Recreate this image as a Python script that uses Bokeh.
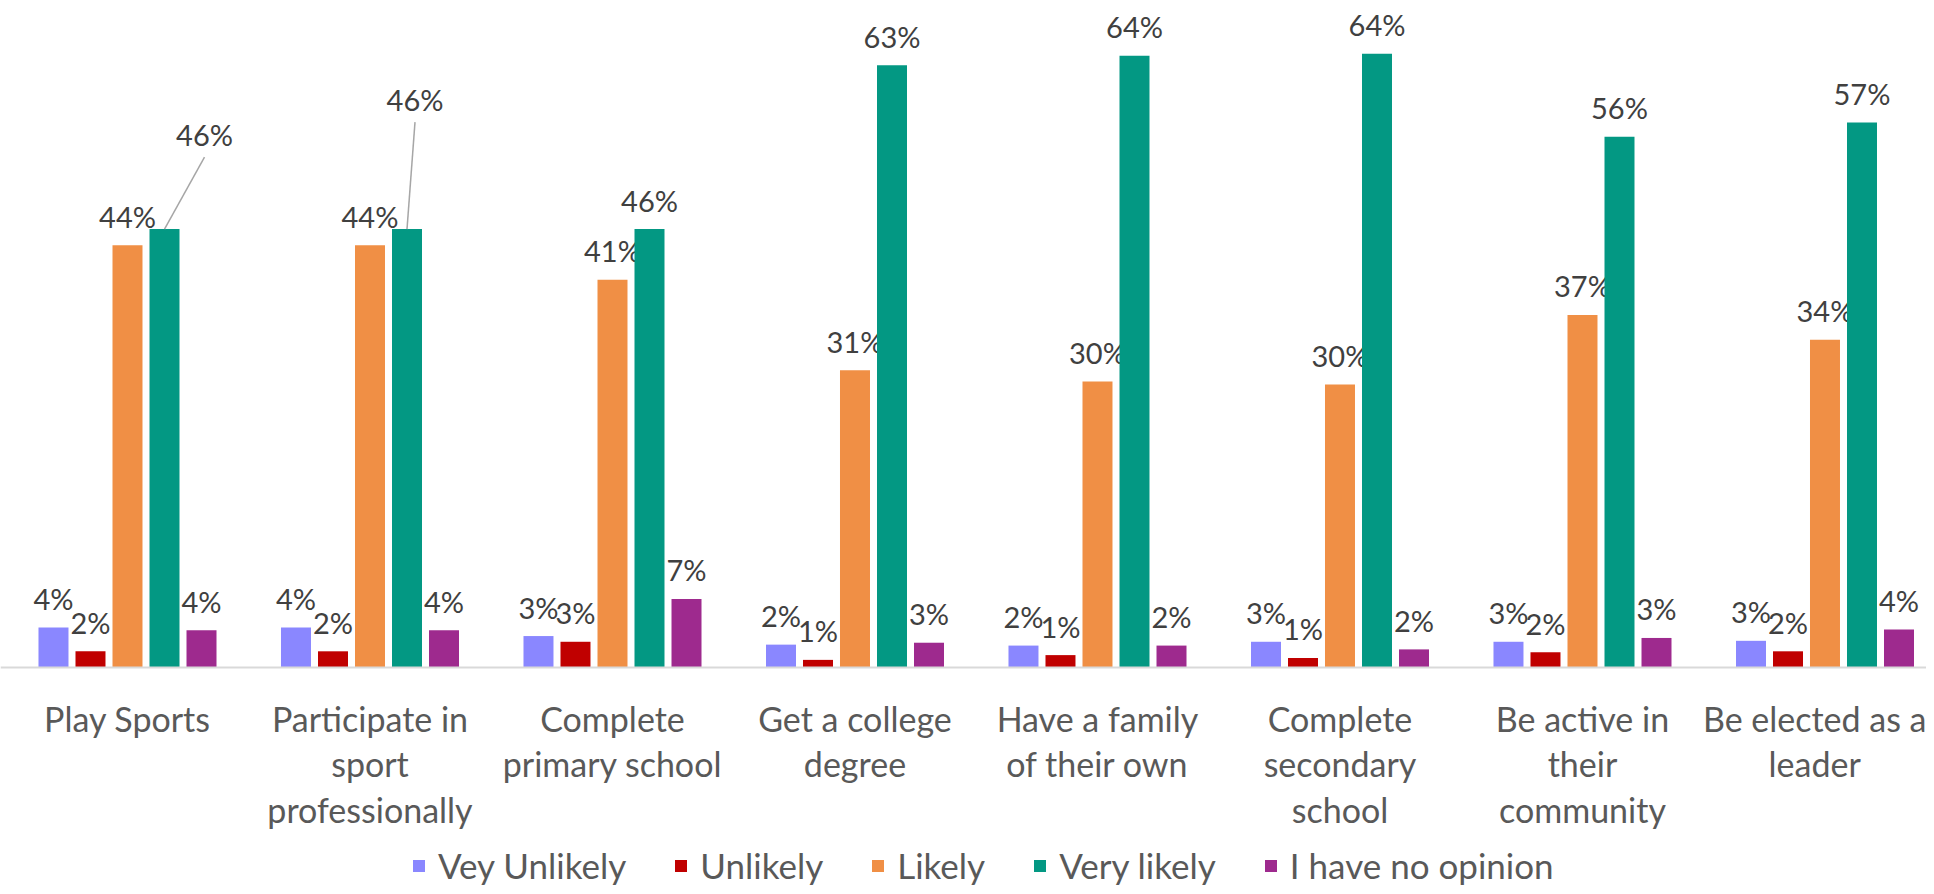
from bokeh.plotting import figure
from bokeh.models import FixedTicker, Legend, LegendItem, Range1d
from bokeh.embed import file_html
from bokeh.resources import INLINE
from bokeh.core.properties import value

# ---------------- data ----------------
categories = ["Play Sports", "Participate in sport professionally", "Complete primary school",
              "Get a college degree", "Have a family of their own", "Complete secondary school",
              "Be active in their community", "Be elected as a leader"]
category_labels = ["Play Sports", "Participate in\nsport\nprofessionally", "Complete\nprimary school",
                   "Get a college\ndegree", "Have a family\nof their own", "Complete\nsecondary\nschool",
                   "Be active in\ntheir\ncommunity", "Be elected as a\nleader"]
series_names = ["Vey Unlikely", "Unlikely", "Likely", "Very likely", "I have no opinion"]
very_unlikely = [4.2, 4.2, 3.3, 2.4, 2.3, 2.7, 2.7, 2.8]
unlikely = [1.7, 1.7, 2.7, 0.8, 1.3, 1.0, 1.6, 1.7]
likely = [44.3, 44.3, 40.7, 31.2, 30.0, 29.7, 37.0, 34.4]
very_likely = [46.0, 46.0, 46.0, 63.2, 64.2, 64.4, 55.7, 57.2]
no_opinion = [3.9, 3.9, 7.2, 2.6, 2.3, 1.9, 3.1, 4.0]
series_values = [very_unlikely, unlikely, likely, very_likely, no_opinion]

# ---------------- style ----------------
colors = ["#8A87FF", "#C00000", "#F08F45", "#039883", "#9E2A8E"]
FONT = "Lato"
W, H = 1926, 886
X_START, X_END = -0.5237, 7.4186
Y_START, Y_END = -22.98, 69.99
BAR_STEP = 0.1526
BAR_W = 0.1237
LABEL_GAP = 29
# labels moved away from their bar, with a leader line (series index, category index): (dx px, dy px)
moved_labels = {(3, 0): (40, -95), (3, 1): (8, -130)}
LEADER_START = 23

px_x = W / (X_END - X_START)
px_y = H / (Y_END - Y_START)

p = figure(width=W, height=H, output_backend="svg", toolbar_location=None,
           x_range=Range1d(X_START, X_END), y_range=Range1d(Y_START, Y_END),
           min_border=0, min_border_left=0, min_border_right=0, min_border_top=0,
           min_border_bottom=0, y_axis_location=None, outline_line_color=None)
p.xgrid.visible = False
p.ygrid.visible = False

n = len(categories)
legend_items = []
for si, (name, vals, col) in enumerate(zip(series_names, series_values, colors)):
    off = (si - 2) * BAR_STEP
    xs = [i + off for i in range(n)]
    r = p.vbar(x=xs, top=vals, bottom=0, width=BAR_W, fill_color=col, line_color=None)
    legend_items.append(LegendItem(label=name, renderers=[r]))
    lx, ly, lt = [], [], []
    for i, v in enumerate(vals):
        txt = f"{v:.0f}%"
        if (si, i) in moved_labels:
            dx, dy = moved_labels[(si, i)]
            tx = xs[i] + dx / px_x
            ty = v - dy / px_y
            p.segment(x0=[tx], y0=[ty - LEADER_START / px_y], x1=[xs[i]], y1=[v],
                      line_color="#A6A6A6", line_width=1.5)
            p.text(x=[tx], y=[ty], text=[txt], text_align="center", text_baseline="middle",
                   text_font=value(FONT), text_font_size="29px", text_color="#404040")
        else:
            lx.append(xs[i]); ly.append(v); lt.append(txt)
    p.text(x=lx, y=ly, text=lt, text_align="center", text_baseline="middle", y_offset=-LABEL_GAP,
           text_font=value(FONT), text_font_size="29px", text_color="#404040")

ax = p.xaxis[0]
ax.fixed_location = 0
ax.ticker = FixedTicker(ticks=list(range(n)))
ax.major_label_overrides = {i: lab for i, lab in enumerate(category_labels)}
ax.major_label_text_font = FONT
ax.major_label_text_font_size = "34px"
ax.major_label_text_color = "#595959"
ax.major_label_text_line_height = 1.12
ax.major_label_standoff = 30
ax.major_tick_out = 0
ax.major_tick_in = 0
ax.minor_tick_out = 0
ax.minor_tick_in = 0
ax.axis_line_color = "#D9D9D9"
ax.axis_line_width = 2

legend = Legend(items=legend_items, orientation="horizontal", location=(411, 0),
                glyph_width=15, glyph_height=15, label_standoff=12, spacing=47,
                padding=0, margin=0, border_line_alpha=0, background_fill_alpha=0,
                label_text_font=FONT, label_text_font_size="35px", label_text_color="#595959")
p.add_layout(legend)

open("out.html", "w").write(file_html(p, INLINE))
